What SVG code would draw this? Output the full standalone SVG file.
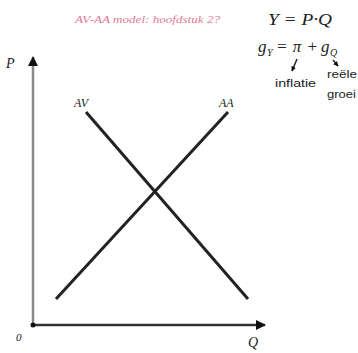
<svg xmlns="http://www.w3.org/2000/svg" width="358" height="353" viewBox="0 0 358 353">
<style>
.it{font-family:"Liberation Serif",serif;font-style:italic;fill:#222}
.sans{font-family:"Liberation Sans",Arial,sans-serif;fill:#222;font-size:11px}
.curve{stroke:#222;stroke-width:3;fill:none}
</style>
<defs>
<marker id="ah" viewBox="0 0 10 10" refX="9" refY="5" markerWidth="10" markerHeight="10" markerUnits="userSpaceOnUse" orient="auto"><path d="M0,0 L10,5 L0,10 z" fill="#111"/></marker>
<marker id="sa" viewBox="0 0 10 10" refX="9" refY="5" markerWidth="5" markerHeight="5" markerUnits="userSpaceOnUse" orient="auto"><path d="M0,0 L10,5 L0,10 z" fill="#111"/></marker>
</defs>
<rect width="358" height="353" fill="#fff"/>
<g id="title"><text x="75" y="23" class="it" style="fill:#e07a95;font-size:10px" textLength="145" lengthAdjust="spacingAndGlyphs">AV-AA model: hoofdstuk 2?</text></g>
<g id="connectors">
<line x1="33" y1="325" x2="33" y2="57" stroke="#8a8a8a" stroke-width="2.5" marker-end="url(#ah)"/>
<line x1="33" y1="325" x2="265" y2="325" stroke="#333" stroke-width="2.5" marker-end="url(#ah)"/>
<circle cx="33" cy="325" r="2.5" fill="#111"/>
<line x1="297" y1="59" x2="292" y2="71" stroke="#222" stroke-width="1.5" marker-end="url(#sa)"/>
<line x1="333" y1="60" x2="338" y2="66" stroke="#222" stroke-width="1.5" marker-end="url(#sa)"/>
</g>
<g id="axis-labels">
<text x="6" y="68" class="it" font-size="14">P</text>
<text x="16" y="341" class="it" font-size="11">0</text>
<text x="248" y="347" class="it" font-size="14">Q</text>
</g>
<g id="AV"><line x1="86" y1="112" x2="248" y2="299" class="curve"/><text x="74" y="107" class="it" font-size="12">AV</text></g>
<g id="AA"><line x1="228" y1="112" x2="56" y2="299" class="curve"/><text x="219" y="107" class="it" font-size="12">AA</text></g>
<g id="eq1"><text x="268" y="25" class="it" font-size="16" textLength="64" lengthAdjust="spacingAndGlyphs">Y = P·Q</text></g>
<g id="eq2">
<text x="258" y="52" class="it" font-size="17">g</text>
<text x="267" y="56" class="it" font-size="10">Y</text>
<text x="276" y="52" class="it" font-size="17" textLength="42" lengthAdjust="spacing">= π +</text>
<text x="321" y="52" class="it" font-size="17">g</text>
<text x="330" y="56" class="it" font-size="10">Q</text>
</g>
<g id="inflatie"><text x="275" y="87" class="sans" textLength="41" lengthAdjust="spacingAndGlyphs">inflatie</text></g>
<g id="groei"><text x="327" y="78" class="sans" textLength="30" lengthAdjust="spacingAndGlyphs">reële</text><text x="327" y="98" class="sans" textLength="29" lengthAdjust="spacingAndGlyphs">groei</text></g>
</svg>
